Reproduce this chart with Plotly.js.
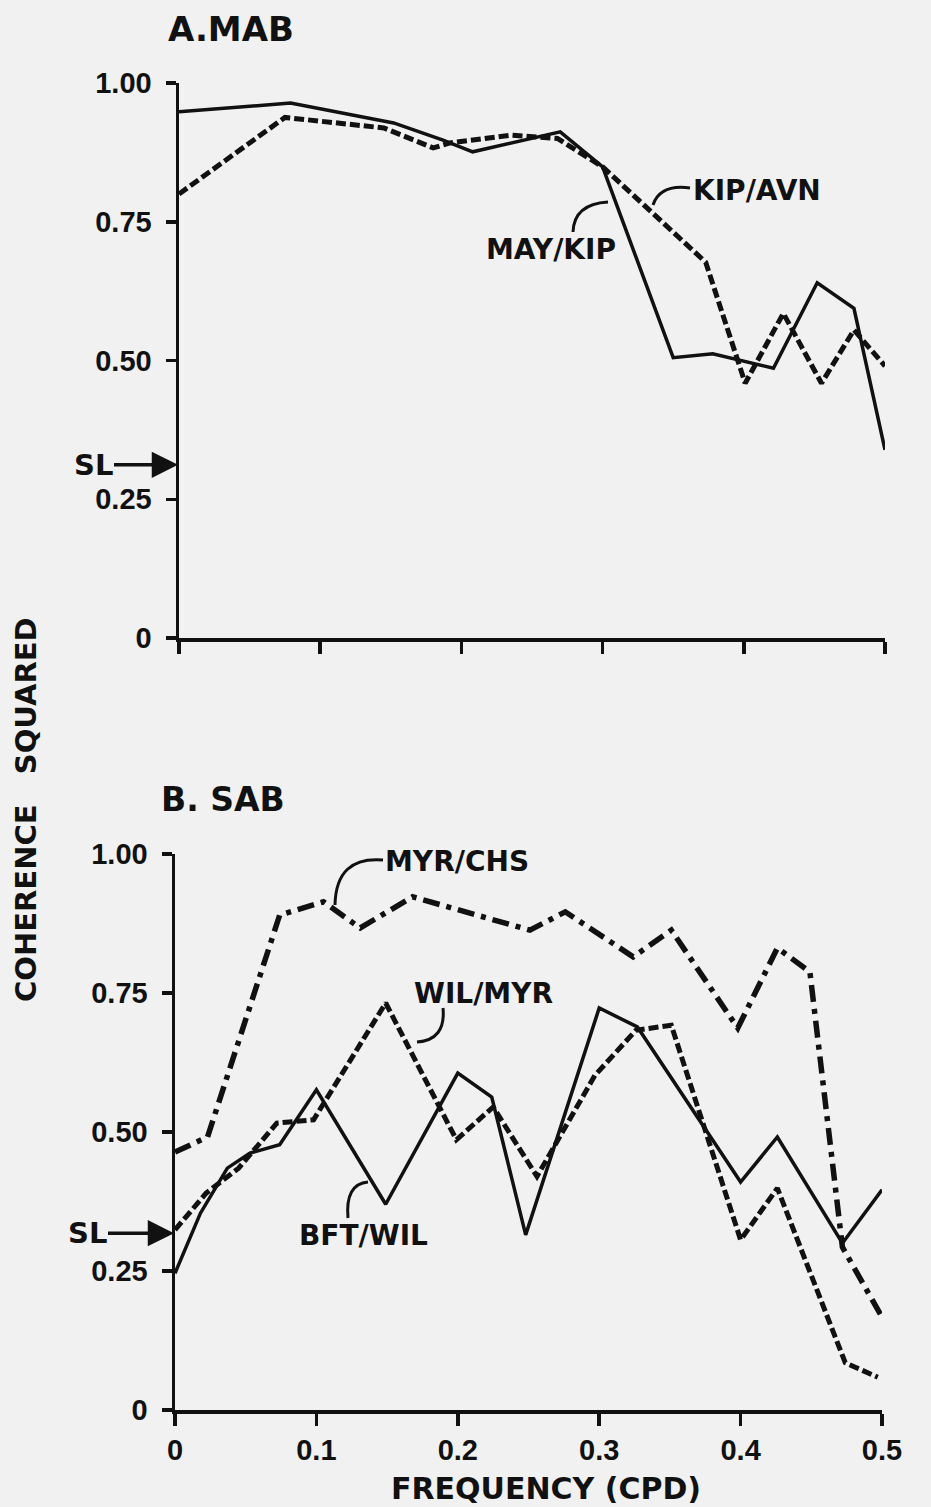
<!DOCTYPE html>
<html>
<head>
<meta charset="utf-8">
<script src="https://cdn.plot.ly/plotly-3.0.1.min.js"></script>
<style>
  html, body { margin: 0; padding: 0; background: #f1f1f1; }
  #chart { width: 931px; height: 1507px; }
</style>
</head>
<body>
<div id="chart"></div>
<script>
// ---------- DATA ----------
// Panel A (MAB)
const freqMayKip = [0, 0.079, 0.152, 0.187, 0.208, 0.27, 0.30, 0.35, 0.378, 0.421, 0.452, 0.478, 0.50];
const cohMayKip  = [0.948, 0.964, 0.928, 0.897, 0.876, 0.912, 0.849, 0.505, 0.512, 0.486, 0.64, 0.594, 0.339];

const freqKipAvn = [0, 0.075, 0.145, 0.18, 0.192, 0.235, 0.268, 0.30, 0.373, 0.401, 0.428, 0.455, 0.478, 0.50];
const cohKipAvn  = [0.80, 0.938, 0.919, 0.883, 0.892, 0.906, 0.90, 0.849, 0.677, 0.459, 0.585, 0.459, 0.555, 0.49];

// Panel B (SAB)
const freqMyrChs = [0, 0.023, 0.074, 0.105, 0.131, 0.168, 0.251, 0.276, 0.324, 0.351, 0.398, 0.426, 0.449, 0.472, 0.5];
const cohMyrChs  = [0.464, 0.491, 0.89, 0.914, 0.867, 0.923, 0.863, 0.896, 0.815, 0.863, 0.687, 0.831, 0.788, 0.293, 0.167];

const freqWilMyr = [0, 0.022, 0.045, 0.072, 0.098, 0.149, 0.199, 0.225, 0.256, 0.297, 0.326, 0.351, 0.40, 0.426, 0.474, 0.497];
const cohWilMyr  = [0.324, 0.39, 0.435, 0.516, 0.522, 0.732, 0.486, 0.545, 0.42, 0.602, 0.683, 0.692, 0.306, 0.399, 0.085, 0.059];

const freqBftWil = [0, 0.018, 0.037, 0.053, 0.074, 0.1, 0.149, 0.2, 0.224, 0.248, 0.3, 0.327, 0.4, 0.426, 0.472, 0.5];
const cohBftWil  = [0.246, 0.354, 0.435, 0.462, 0.477, 0.576, 0.37, 0.606, 0.563, 0.315, 0.723, 0.689, 0.41, 0.491, 0.30, 0.396];

// Significance levels
const slPanelA = 0.312;
const slPanelB = 0.318;

// Tick labels
const xTickVals = [0, 0.1, 0.2, 0.3, 0.4, 0.5];
const xTickText = ['0', '0.1', '0.2', '0.3', '0.4', '0.5'];
const yTickVals = [0, 0.25, 0.5, 0.75, 1.0];
const yTickText = ['0', '0.25', '0.50', '0.75', '1.00'];

// ---------- HELPERS ----------
const W = 931, H = 1507;
const px = v => v / W;
const py = v => 1 - v / H;
const INK = '#111111';
const LBL = {family: 'DejaVu Sans, Arial, sans-serif', size: 28, color: INK, weight: 'bold'};
const TICKF = {family: 'Liberation Sans, Arial, sans-serif', size: 29, color: INK, weight: 'bold'};

function curve(p0, c, p1) {
  return {
    type: 'path', xref: 'paper', yref: 'paper',
    path: `M ${px(p0[0])} ${py(p0[1])} Q ${px(c[0])} ${py(c[1])} ${px(p1[0])} ${py(p1[1])}`,
    line: {color: INK, width: 3}
  };
}
function label(text, x, y, size) {
  return {text: text, xref: 'paper', yref: 'paper', x: px(x), y: py(y),
          xanchor: 'center', yanchor: 'middle', showarrow: false,
          font: Object.assign({}, LBL, size ? {size: size} : {})};
}

// ---------- TRACES ----------
const traces = [
  {x: freqMayKip, y: cohMayKip, xaxis: 'x', yaxis: 'y', mode: 'lines',
   line: {color: INK, width: 3.5}, name: 'MAY/KIP'},
  {x: freqKipAvn, y: cohKipAvn, xaxis: 'x', yaxis: 'y', mode: 'lines',
   line: {color: INK, width: 5, dash: '10px,4px'}, name: 'KIP/AVN'},
  {x: freqMyrChs, y: cohMyrChs, xaxis: 'x2', yaxis: 'y2', mode: 'lines',
   line: {color: INK, width: 5.5, dash: '17px,7px,5px,7px'}, name: 'MYR/CHS'},
  {x: freqWilMyr, y: cohWilMyr, xaxis: 'x2', yaxis: 'y2', mode: 'lines',
   line: {color: INK, width: 5, dash: '10px,4px'}, name: 'WIL/MYR'},
  {x: freqBftWil, y: cohBftWil, xaxis: 'x2', yaxis: 'y2', mode: 'lines',
   line: {color: INK, width: 3.5}, name: 'BFT/WIL'}
];

const axisCommon = {
  showline: true, linecolor: INK, linewidth: 3.5, showgrid: false, zeroline: false,
  ticks: 'outside', tickcolor: INK, tickwidth: 3.5, fixedrange: true, tickfont: TICKF
};

const layout = {
  width: W, height: H,
  margin: {l: 0, r: 0, t: 0, b: 0},
  paper_bgcolor: '#f1f1f1', plot_bgcolor: 'rgba(0,0,0,0)',
  showlegend: false,
  xaxis: Object.assign({}, axisCommon, {
    domain: [px(179), px(885)], anchor: 'y', range: [0, 0.5],
    tickvals: xTickVals, ticktext: xTickText, showticklabels: false, ticklen: 12
  }),
  yaxis: Object.assign({}, axisCommon, {
    domain: [py(638), py(83)], anchor: 'x', range: [0, 1],
    tickvals: yTickVals, ticktext: yTickText, ticklen: 10, ticklabelstandoff: 8
  }),
  xaxis2: Object.assign({}, axisCommon, {
    domain: [px(175), px(882)], anchor: 'y2', range: [0, 0.5],
    tickvals: xTickVals, ticktext: xTickText, ticklen: 12, ticklabelstandoff: 0
  }),
  yaxis2: Object.assign({}, axisCommon, {
    domain: [py(1410), py(854)], anchor: 'x2', range: [0, 1],
    tickvals: yTickVals, ticktext: yTickText, ticklen: 10, ticklabelstandoff: 8
  }),
  annotations: [
    label('A.MAB', 231, 29, 34),
    label('B. SAB', 223, 799, 33),
    label('MAY/KIP', 551, 249),
    label('KIP/AVN', 757, 190),
    label('MYR/CHS', 457, 861),
    label('WIL/MYR', 483, 993),
    label('BFT/WIL', 363, 1235),
    {text: 'FREQUENCY (CPD)', xref: 'paper', yref: 'paper', x: px(546), y: py(1488),
     xanchor: 'center', yanchor: 'middle', showarrow: false, font: Object.assign({}, LBL, {size: 30})},
    {text: 'COHERENCE&nbsp;&nbsp;&nbsp;SQUARED', xref: 'paper', yref: 'paper', x: px(26), y: py(810),
     xanchor: 'center', yanchor: 'middle', showarrow: false, textangle: -90,
     font: Object.assign({}, LBL, {size: 29})},
    {text: 'SL', xref: 'x', yref: 'y', x: 0, y: slPanelA, ax: -86, ay: 0,
     showarrow: true, arrowhead: 2, arrowsize: 1.5, arrowwidth: 3.5, arrowcolor: INK, standoff: 1,
     font: Object.assign({}, LBL, {size: 29})},
    {text: 'SL', xref: 'x2', yref: 'y2', x: 0, y: slPanelB, ax: -88, ay: 0,
     showarrow: true, arrowhead: 2, arrowsize: 1.5, arrowwidth: 3.5, arrowcolor: INK, standoff: 1,
     font: Object.assign({}, LBL, {size: 29})}
  ],
  shapes: [
    curve([573, 232], [574, 204], [608, 202]),
    curve([690, 188], [660, 184], [653, 205]),
    curve([383, 860], [336, 856], [335, 905]),
    curve([443, 1008], [446, 1040], [417, 1042]),
    curve([348, 1218], [345, 1184], [368, 1182])
  ]
};

Plotly.newPlot('chart', traces, layout, {staticPlot: true, displayModeBar: false});
</script>
</body>
</html>
